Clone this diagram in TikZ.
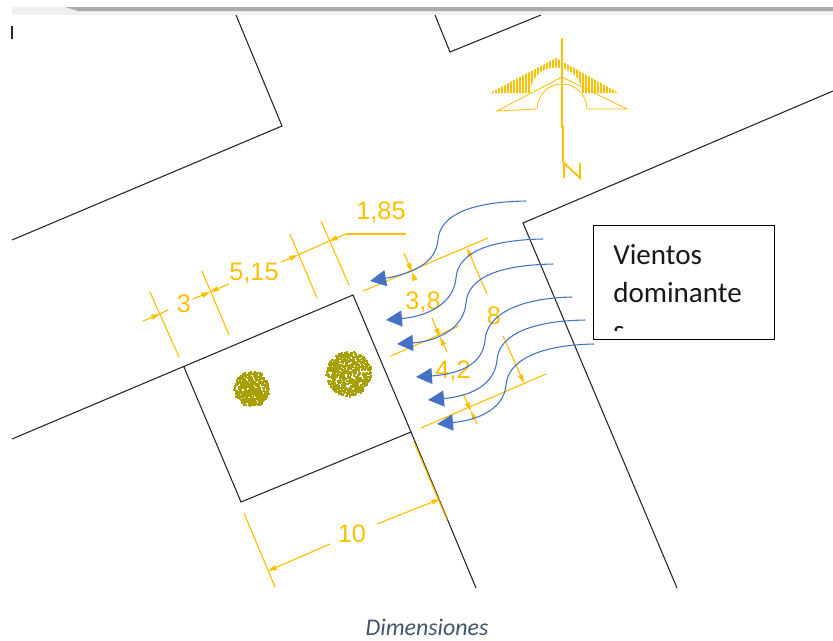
\documentclass[tikz,border=0pt]{standalone}
\usepackage{fontspec}
\setmainfont{Carlito}
\newfontfamily\dimfont{Liberation Sans}
\usetikzlibrary{arrows.meta,calc}
\definecolor{dimy}{HTML}{FFC000}
\definecolor{wind}{HTML}{4472C4}
\definecolor{treec}{HTML}{A8A000}
\definecolor{capc}{HTML}{44546A}
\tikzset{
  wall/.style={draw=black!85,line width=0.8pt,line join=miter},
  dimline/.style={draw=dimy,line width=0.85pt},
  dimtip/.style={dimline,-{Triangle[length=6.5pt,width=3.8pt]}},
  dimlabel/.style={text=dimy,font=\dimfont\fontsize{19pt}{20pt}\selectfont,inner sep=0pt},
  windline/.style={draw=wind,line width=0.8pt,-{Triangle[length=12pt,width=12pt,fill=wind]}},
  boxtext/.style={font=\fontsize{21.8pt}{24pt}\selectfont,anchor=base west,inner sep=0pt,text=black!90},
}
\newcommand{\treeblob}[3]{%
  \foreach \i in {1,...,#3}{%
    \pgfmathsetmacro{\ang}{rnd*360}%
    \pgfmathsetmacro{\rad}{#2*sqrt(rnd)}%
    \fill[treec] ($(#1)+(\ang:\rad)$) +(-1.1,-1.1) rectangle +(1.1,1.1);%
  }%
}
\begin{document}
\begin{tikzpicture}[x=0.75pt,y=-0.75pt]
\useasboundingbox (0,0) rectangle (833,640);
\fill[white] (0,0) rectangle (833,640);
% window shadow
\fill[black!6] (12,7) rectangle (833,15);
\fill[black!33] (65,7) -- (833,7) -- (833,11) -- (78,11) -- cycle;
\draw[wall] (12,26) -- (12,39);
% streets and plot
\draw[wall] (236,15) -- (282,126) -- (12,240);
\draw[wall] (435,15) -- (450,52) -- (541,15);
\draw[wall] (12,439) -- (353,295) -- (411,432) -- (241,502) -- (184,367);
\draw[wall] (411,432) -- (476,588);
\draw[wall] (677,588) -- (523,223) -- (833,91);
% trees
\pgfmathsetseed{7}
\treeblob{252,389}{17.5}{430}
\treeblob{349,374}{22.5}{620}
% north symbol
\begin{scope}
  \clip (490,93) -- (556,58) -- (619,93) -- cycle;
  \foreach \x in {490,493,...,620}{\draw[dimy,line width=1.7pt] (\x,55) -- (\x,95);}
\end{scope}
\fill[white] (530,93.5) arc[start angle=180,end angle=360,radius=26] -- cycle;
\draw[dimline,line width=0.6pt] (497,111) -- (562,77) -- (627,109) -- (587,109) arc[start angle=0,end angle=-180,radius=25] -- (517,110) -- cycle;
\draw[dimline] (562,38) -- (562,127) -- (563,127) -- (563,162);
\draw[dimline,line width=1.4pt] (564,178) -- (564,163) -- (580,178) -- (580,163);
% top dimensions
\draw[dimline] (150,292) -- (179,357);
\draw[dimline] (202,271) -- (229,335);
\draw[dimline] (290,234) -- (317,298);
\draw[dimline] (321,221) -- (349,285);
\draw[dimtip] (143,321) -- (160,314);
\draw[dimline] (160,314) -- (168,310);
\draw[dimtip] (193,299) -- (210,292);
\draw[dimtip] (229,284) -- (210,292);
\draw[dimtip] (281,262) -- (298,255);
\draw[dimtip] (346,234) -- (329,241);
\draw[dimline] (298,255) -- (329,241);
\draw[dimline] (346,234) -- (406,234);
\node[dimlabel] (d3) at (184,304) {3};
\node[dimlabel] (d515) at (254,273) {5,15};
\node[dimlabel] (d185) at (381,212) {1,85};
% right dimensions
\draw[dimline] (363,291) -- (488,238);
\draw[dimline] (391,356) -- (459,326);
\draw[dimline] (421,428) -- (546,374);
\draw[dimtip] (404,253) -- (412,272);
\draw[dimtip] (415,280) -- (412,272);
\draw[dimtip] (487,294) -- (467,248);
\draw[dimtip] (432,318) -- (440,337);
\draw[dimtip] (447,352) -- (440,337);
\draw[dimtip] (503,336) -- (524,383);
\draw[dimtip] (463,394) -- (471,411);
\draw[dimtip] (477,424) -- (471,411);
\node[dimlabel] (d38) at (423,302) {3,8};
\node[dimlabel] (d8) at (494,316) {8};
\node[dimlabel] (d42) at (453,371) {4,2};
% bottom dimension
\draw[dimline] (244,513) -- (275,587);
\draw[dimline] (414,442) -- (447,520);
\draw[dimtip] (330,544) -- (268,571);
\draw[dimtip] (377,524) -- (440,499);
\node[dimlabel] (d10) at (352,534) {10};
% wind
\draw[windline] (526,201) .. controls (470,202) and (440,215) .. (438,240) .. controls (436,262) and (415,273) .. (370,281);
\draw[windline] (543,239) .. controls (490,240) and (458,252) .. (456,278) .. controls (454,302) and (430,316) .. (386,320);
\draw[windline] (553,264) .. controls (500,265) and (468,277) .. (466,303) .. controls (464,327) and (440,341) .. (397,344);
\draw[windline] (572,297) .. controls (520,298) and (487,314) .. (485,340) .. controls (483,364) and (460,374) .. (416,377);
\draw[windline] (585,320) .. controls (530,321) and (499,335) .. (497,360) .. controls (495,384) and (472,396) .. (428,400);
\draw[windline] (594,344) .. controls (540,345) and (508,360) .. (506,385) .. controls (504,408) and (480,420) .. (437,424);
% label box
\node[draw=black,fill=white,line width=0.75pt,minimum width=135.75pt,minimum height=85.5pt,inner sep=0pt] (box) at (683.5,282) {};
\begin{scope}
  \clip (593,225) rectangle (775,330.5);
  \node[boxtext] (v1) at (613,264) {Vientos};
  \node[boxtext] (v2) at (613,302) {dominante};
  \node[boxtext] (v3) at (613,340) {s};
\end{scope}
% caption
\node[text=capc,font=\fontsize{17.9pt}{20pt}\itshape\selectfont,inner sep=0pt] (cap) at (427,627) {Dimensiones};
\end{tikzpicture}
\end{document}
